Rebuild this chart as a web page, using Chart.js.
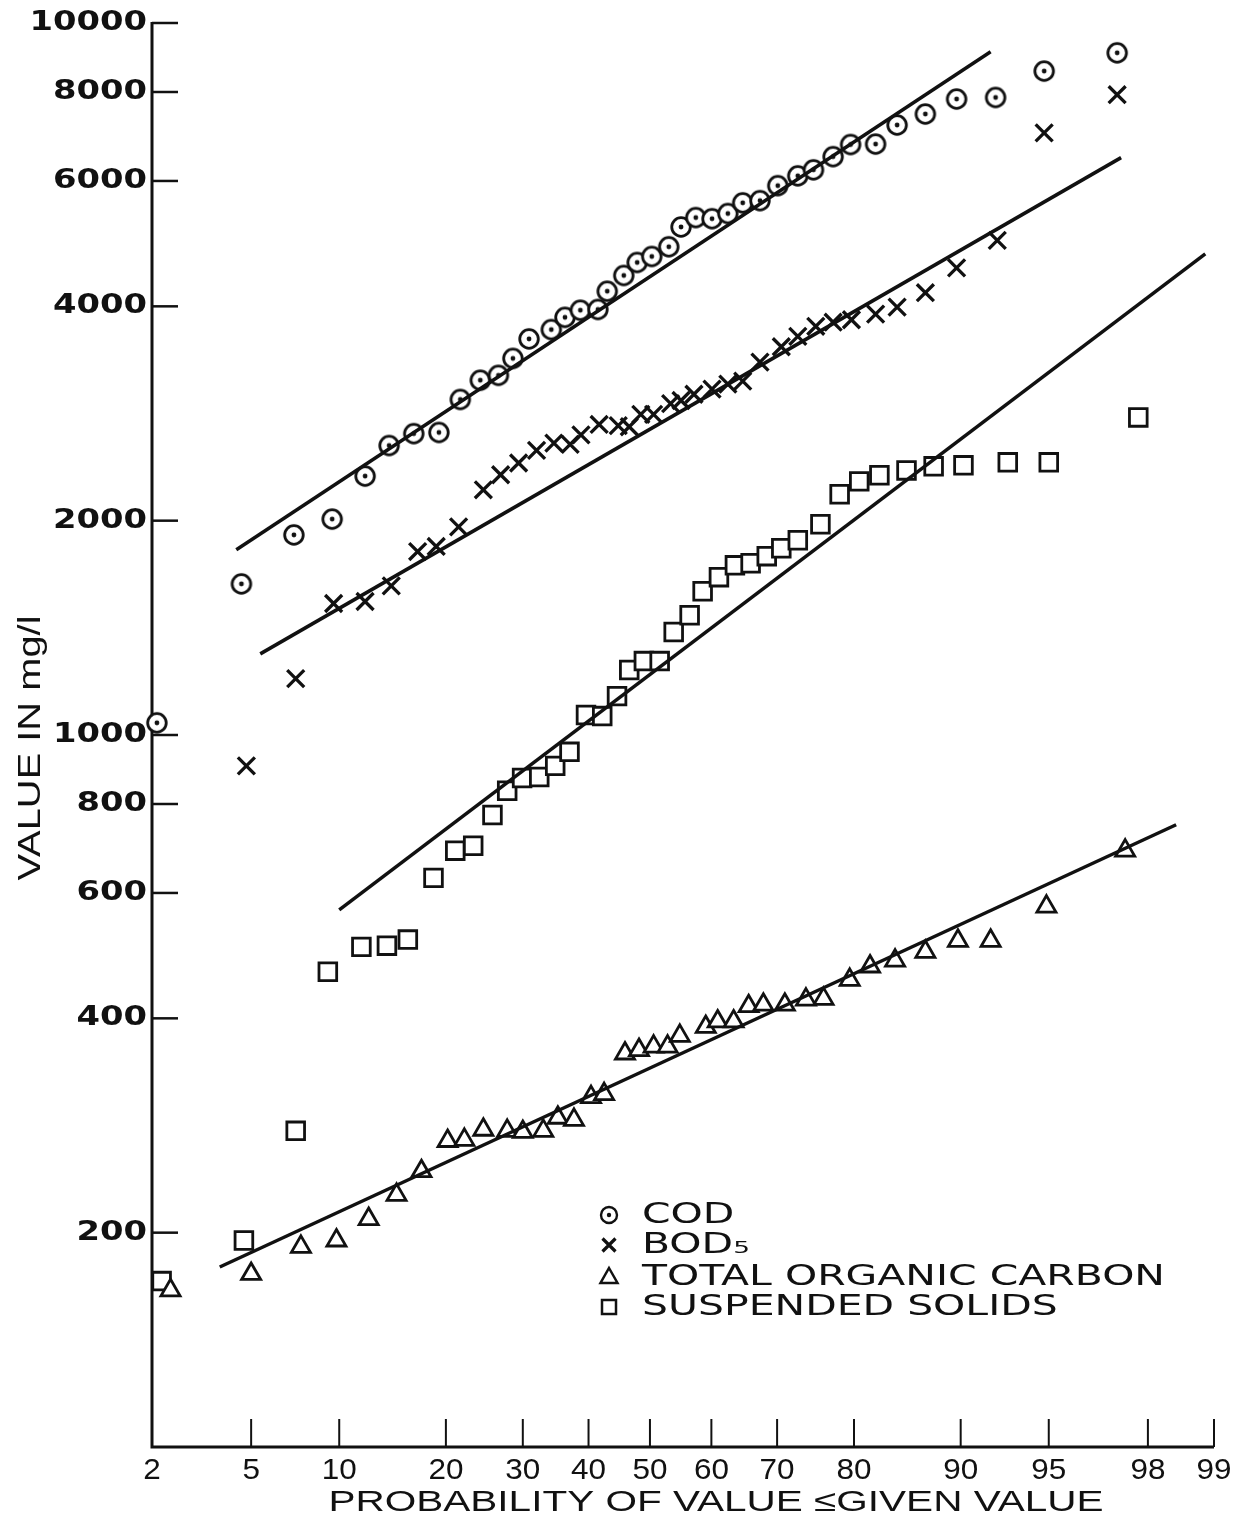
<!DOCTYPE html>
<html>
<head>
<meta charset="utf-8">
<title>Probability plot of wastewater parameters</title>
<script src="https://cdn.jsdelivr.net/npm/chart.js@4.4.1/dist/chart.umd.min.js"></script>
<style>
  html, body { margin: 0; padding: 0; background: #fff; }
  canvas { display: block; }
</style>
</head>
<body>
<canvas id="chart" width="1249" height="1527"></canvas>
<script>
// probability values (percent) and concentrations (mg/l)

const xTickLabels = [2, 5, 10, 20, 30, 40, 50, 60, 70, 80, 90, 95, 98, 99];
const yTickLabels = [10000, 8000, 6000, 4000, 2000, 1000, 800, 600, 400, 200];

const codProb = [2.1, 4.6, 7.1, 9.5, 12.0, 14.1, 16.5, 19.2, 21.7, 24.2, 26.6, 28.6, 30.9, 34.2, 36.3, 38.7, 41.5, 43.0, 45.7, 47.9,
                 50.3, 53.1, 55.1, 57.5, 60.1, 62.6, 64.9, 67.5, 70.1, 72.9, 75.0, 77.5, 79.6, 82.4, 84.6, 87.2, 89.7, 92.3, 94.8, 97.3];
const codValue = [1040, 1630, 1910, 2010, 2310, 2550, 2650, 2660, 2960, 3150, 3200, 3380, 3600, 3710, 3860, 3950, 3960, 4200, 4420, 4610,
                  4700, 4850, 5170, 5330, 5310, 5400, 5590, 5630, 5910, 6100, 6220, 6490, 6750, 6760, 7190, 7450, 7820, 7860, 8560, 9080];

const bodProb = [4.8, 7.2, 9.6, 12.0, 14.3, 16.9, 18.9, 21.5, 24.6, 26.9, 29.4, 32.0, 34.6, 37.1, 38.8, 41.7, 44.8, 46.6, 48.5, 50.6,
                 53.4, 55.1, 57.2, 60.1, 62.6, 64.9, 67.5, 70.6, 72.9, 75.3, 77.5, 79.7, 82.4, 84.6, 87.2, 89.7, 92.4, 94.8, 97.3];
const bodValue = [905, 1200, 1530, 1540, 1620, 1810, 1840, 1960, 2210, 2320, 2410, 2510, 2570, 2560, 2640, 2730, 2720, 2710, 2820, 2820,
                  2920, 2950, 3010, 3060, 3110, 3140, 3340, 3510, 3630, 3750, 3800, 3830, 3900, 3990, 4180, 4530, 4950, 7010, 7930];

const tocProb = [2.4, 5.0, 7.5, 9.8, 12.3, 14.8, 17.3, 20.2, 22.2, 24.6, 27.8, 30.0, 33.0, 35.2, 37.7, 40.4, 42.5, 45.9, 48.2,
                 50.6, 52.9, 54.9, 59.1, 61.0, 63.5, 65.8, 68.0, 71.1, 74.0, 76.3, 79.5, 81.8, 84.4, 87.2, 89.8, 92.0, 94.9, 97.5];
const tocValue = [166, 175, 191, 195, 209, 226, 244, 269, 270, 279, 278, 277, 278, 290, 288, 310, 313, 357, 361,
                  365, 365, 378, 389, 396, 396, 416, 418, 418, 425, 426, 453, 473, 482, 496, 514, 514, 574, 688];

const ssProb = [2.2, 4.7, 7.2, 9.2, 11.7, 13.9, 15.9, 18.6, 21.1, 23.3, 25.8, 27.8, 29.9, 32.4, 34.8, 37.0, 39.6, 42.2, 44.6, 46.6,
                49.0, 51.6, 53.9, 56.5, 58.6, 61.2, 63.7, 66.1, 68.5, 70.6, 72.9, 75.9, 78.3, 80.6, 82.8, 85.5, 87.9, 90.2, 93.0, 95.0, 97.8];
const ssValue = [171, 195, 278, 465, 504, 506, 516, 630, 688, 699, 772, 835, 870, 873, 905, 947, 1067, 1063, 1134, 1234,
                 1270, 1270, 1395, 1473, 1592, 1666, 1731, 1743, 1783, 1829, 1877, 1977, 2178, 2271, 2316, 2353, 2384, 2392, 2415, 2415, 2793];

// fitted straight lines (end points)
const codFitProb = [4.4, 92.0];
const codFitValue = [1820, 9110];
const bodFitProb = [5.4, 97.4];
const bodFitValue = [1300, 6470];
const ssFitProb = [10.0, 98.9];
const ssFitValue = [568, 4740];
const tocFitProb = [3.8, 98.5];
const tocFitValue = [179, 748];

const seriesNames = ['COD', 'BOD\u2085', 'TOTAL ORGANIC CARBON', 'SUSPENDED SOLIDS'];

const INK = '#111';

// inverse of the normal distribution (probability paper)
function probit(pct) {
    const p = pct / 100;
    const a = [-3.969683028665376e+01, 2.209460984245205e+02, -2.759285104469687e+02, 1.383577518672690e+02, -3.066479806614716e+01, 2.506628277459239e+00];
    const b = [-5.447609879822406e+01, 1.615858368580409e+02, -1.556989798598866e+02, 6.680131188771972e+01, -1.328068155288572e+01];
    const c = [-7.784894002430293e-03, -3.223964580411365e-01, -2.400758277161838e+00, -2.549671010229528e+00, 4.374664141464968e+00, 2.938163982698783e+00];
    const d = [7.784695709041462e-03, 3.224671290700398e-01, 2.445134137142996e+00, 3.754408661907416e+00];
    const pLow = 0.02425;
    let q, r;
    if (p < pLow) {
        q = Math.sqrt(-2 * Math.log(p));
        return (((((c[0]*q+c[1])*q+c[2])*q+c[3])*q+c[4])*q+c[5]) / ((((d[0]*q+d[1])*q+d[2])*q+d[3])*q+1);
    }
    if (p <= 1 - pLow) {
        q = p - 0.5; r = q * q;
        return (((((a[0]*r+a[1])*r+a[2])*r+a[3])*r+a[4])*r+a[5])*q / (((((b[0]*r+b[1])*r+b[2])*r+b[3])*r+b[4])*r+1);
    }
    q = Math.sqrt(-2 * Math.log(1 - p));
    return -(((((c[0]*q+c[1])*q+c[2])*q+c[3])*q+c[4])*q+c[5]) / ((((d[0]*q+d[1])*q+d[2])*q+d[3])*q+1);
}

function toPoints(probs, values) {
    return probs.map((p, i) => ({ x: probit(p), y: values[i] }));
}

// circle with a centre dot, used for COD
function dottedCircle(r, lw, dot) {
    const size = Math.ceil(2 * r + lw + 2);
    const cv = document.createElement('canvas');
    cv.width = size; cv.height = size;
    const c = cv.getContext('2d');
    c.beginPath();
    c.arc(size / 2, size / 2, r, 0, Math.PI * 2);
    c.fillStyle = '#fff';
    c.fill();
    c.lineWidth = lw;
    c.strokeStyle = INK;
    c.stroke();
    c.beginPath();
    c.arc(size / 2, size / 2, dot, 0, Math.PI * 2);
    c.fillStyle = INK;
    c.fill();
    return cv;
}

// text squeezed / stretched to a given width
function drawText(ctx, text, x, y, font, width, align, rotate) {
    ctx.save();
    ctx.font = font;
    const w = ctx.measureText(text).width;
    const sx = width ? width / w : 1;
    ctx.translate(x, y);
    if (rotate) ctx.rotate(rotate);
    ctx.scale(sx, 1);
    ctx.textAlign = align || 'center';
    ctx.textBaseline = 'middle';
    ctx.fillStyle = INK;
    ctx.fillText(text, 0, 0);
    ctx.restore();
}

const paperAxes = {
    id: 'paperAxes',
    beforeDatasetsDraw(chart) {
        const { ctx, chartArea: a, scales: { x, y } } = chart;
        ctx.save();
        ctx.strokeStyle = INK;
        ctx.lineCap = 'butt';

        // axis lines
        ctx.lineWidth = 3;
        ctx.beginPath();
        ctx.moveTo(a.left, a.top - 1);
        ctx.lineTo(a.left, a.bottom);
        ctx.lineTo(a.right, a.bottom);
        ctx.stroke();

        // y ticks, pointing into the plot
        ctx.lineWidth = 2.5;
        yTickLabels.forEach(v => {
            const py = y.getPixelForValue(v);
            ctx.beginPath();
            ctx.moveTo(a.left, py);
            ctx.lineTo(a.left + 26, py);
            ctx.stroke();
            const s = String(v);
            drawText(ctx, s, a.left - 5, py, 'bold 27px "DejaVu Sans"', 23.5 * s.length, 'right');
        });

        // x ticks
        ctx.lineWidth = 2;
        xTickLabels.forEach(p => {
            const px = x.getPixelForValue(probit(p));
            if (p !== xTickLabels[0]) {
                ctx.beginPath();
                ctx.moveTo(px, a.bottom);
                ctx.lineTo(px, a.bottom - 28);
                ctx.stroke();
            }
            const s = String(p);
            drawText(ctx, s, px, a.bottom + 24, '30px "Liberation Sans"', 17.5 * s.length, 'center');
        });

        // axis titles
        drawText(ctx, 'PROBABILITY OF VALUE \u2264GIVEN VALUE', 716, 1503, '30px "Liberation Sans"', 775, 'center');
        drawText(ctx, 'VALUE IN mg/l', 31, 748, '32px "Liberation Sans"', 265, 'center', -Math.PI / 2);
        ctx.restore();
    },
    afterDraw(chart) {
        const { ctx } = chart;
        const rows = [1215, 1245, 1277, 1307];
        const mx = 609, tx = 642;
        ctx.save();
        ctx.strokeStyle = INK;
        ctx.fillStyle = INK;

        // COD marker
        ctx.lineWidth = 2.4;
        ctx.beginPath(); ctx.arc(mx, rows[0], 8, 0, Math.PI * 2); ctx.stroke();
        ctx.beginPath(); ctx.arc(mx, rows[0], 2.2, 0, Math.PI * 2); ctx.fill();
        // BOD marker
        ctx.lineWidth = 3.2;
        ctx.beginPath();
        ctx.moveTo(mx - 6.5, rows[1] - 6.5); ctx.lineTo(mx + 6.5, rows[1] + 6.5);
        ctx.moveTo(mx + 6.5, rows[1] - 6.5); ctx.lineTo(mx - 6.5, rows[1] + 6.5);
        ctx.stroke();
        // TOC marker
        ctx.lineWidth = 2.5;
        ctx.beginPath();
        ctx.moveTo(mx, rows[2] - 9); ctx.lineTo(mx + 8.5, rows[2] + 6); ctx.lineTo(mx - 8.5, rows[2] + 6);
        ctx.closePath(); ctx.stroke();
        // SS marker
        ctx.strokeRect(mx - 7, rows[3] - 7, 14, 14);

        // legend text, all lines share one stretch factor
        const font = '29px "DejaVu Sans"';
        ctx.font = font;
        const sx = 523 / ctx.measureText(seriesNames[2]).width;
        seriesNames.forEach((name, i) => {
            const w = ctx.measureText(name).width * sx;
            drawText(ctx, name, tx, rows[i], font, w, 'left');
        });
        ctx.restore();
    }
};

const fitLine = (probs, values) => ({
    data: toPoints(probs, values),
    showLine: true,
    borderColor: INK,
    borderWidth: 3.5,
    pointRadius: 0,
    clip: false
});

const markerBase = {
    showLine: false,
    borderColor: INK,
    backgroundColor: '#fff',
    clip: false
};

new Chart(document.getElementById('chart'), {
    type: 'scatter',
    data: {
        datasets: [
            fitLine(codFitProb, codFitValue),
            fitLine(bodFitProb, bodFitValue),
            fitLine(ssFitProb, ssFitValue),
            fitLine(tocFitProb, tocFitValue),
            Object.assign({}, markerBase, {
                label: seriesNames[0],
                data: toPoints(codProb, codValue),
                pointStyle: dottedCircle(9.3, 2.8, 2.4)
            }),
            Object.assign({}, markerBase, {
                label: seriesNames[1],
                data: toPoints(bodProb, bodValue),
                pointStyle: 'crossRot',
                pointRadius: 12,
                pointBorderWidth: 3.3
            }),
            Object.assign({}, markerBase, {
                label: seriesNames[2],
                data: toPoints(tocProb, tocValue),
                pointStyle: 'triangle',
                pointRadius: 11,
                pointBorderWidth: 2.8
            }),
            Object.assign({}, markerBase, {
                label: seriesNames[3],
                data: toPoints(ssProb, ssValue),
                pointStyle: 'rect',
                pointRadius: 12.5,
                pointBorderWidth: 2.8
            })
        ]
    },
    options: {
        responsive: false,
        animation: false,
        layout: { padding: { left: 152, right: 35, top: 23, bottom: 80 } },
        scales: {
            x: { type: 'linear', display: false, min: probit(2), max: probit(99) },
            y: { type: 'logarithmic', display: false, min: 100, max: 10000 }
        },
        plugins: {
            legend: { display: false },
            tooltip: { enabled: false }
        }
    },
    plugins: [paperAxes]
});
</script>
</body>
</html>
